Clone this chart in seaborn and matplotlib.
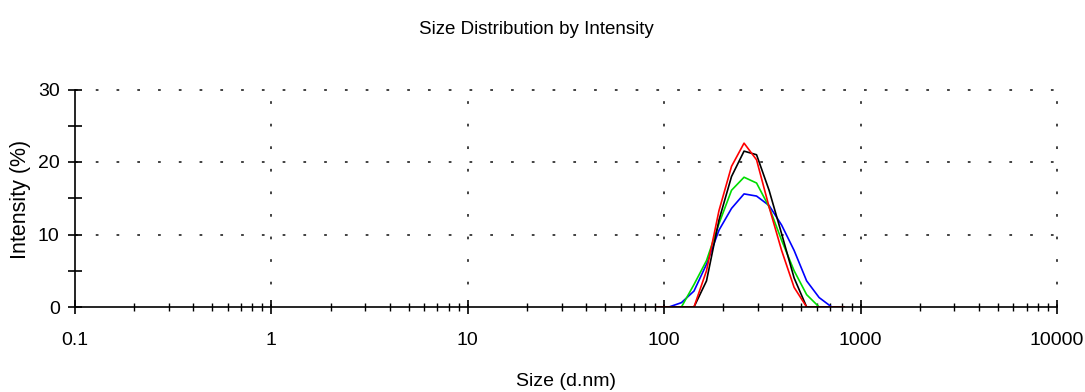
import numpy as np
import pandas as pd
import matplotlib
matplotlib.use("Agg")
import matplotlib.pyplot as plt
import seaborn as sns
from matplotlib.ticker import LogLocator, FixedLocator, NullFormatter

# Size bins (d.nm) around the peak region
sizes = [91.28, 105.7, 122.4, 141.8, 164.2, 190.1, 220.2, 255.0, 295.3,
         342.0, 396.1, 458.7, 531.2, 615.1, 712.4, 825.0]

# Intensity (%) per record
red   = [0, 0, 0, 0, 5.0, 13.3, 19.4, 22.6, 20.3, 13.8, 7.8, 2.7, 0, 0, 0, 0]
black = [0, 0, 0, 0, 3.6, 12.0, 18.0, 21.5, 21.0, 16.1, 10.1, 4.0, 0, 0, 0, 0]
green = [0, 0, 0, 3.1, 6.4, 11.5, 16.1, 17.9, 17.1, 13.8, 9.2, 5.0, 1.7, 0, 0, 0]
blue  = [0, 0, 0.6, 2.2, 5.9, 10.6, 13.6, 15.6, 15.3, 14.0, 11.3, 7.8, 3.6, 1.3, 0, 0]

series_names = ["Record 1", "Record 2", "Record 3", "Record 4"]
series_values = [blue, green, black, red]
series_colors = ["#0000ff", "#00dd00", "#000000", "#ff0000"]

x_major = [0.1, 1, 10, 100, 1000, 10000]
x_labels = ["0.1", "1", "10", "100", "1000", "10000"]
y_major = [0, 10, 20, 30]

df = pd.concat([pd.DataFrame({"size": sizes, "intensity": v, "record": n})
                for n, v in zip(series_names, series_values)], ignore_index=True)

sns.set_style("white")
plt.rcParams["font.family"] = ["Liberation Sans", "DejaVu Sans"]
plt.rcParams["text.color"] = "black"

W, H = 1085, 392
fig = plt.figure(figsize=(W / 100, H / 100), dpi=100)
ax = fig.add_axes([75/W, 1-307/H, (1057-75)/W, (307-89.5)/H])

sns.lineplot(data=df, x="size", y="intensity", hue="record",
             palette=dict(zip(series_names, series_colors)),
             linewidth=1.2, legend=False, ax=ax, estimator=None, sort=False)

ax.set_xscale("log")
ax.set_xlim(0.1, 10000)
ax.set_ylim(0, 30)

ax.xaxis.set_major_locator(FixedLocator(x_major))
ax.set_xticklabels(x_labels)
ax.xaxis.set_minor_locator(LogLocator(base=10, subs=np.arange(2, 10), numticks=20))
ax.xaxis.set_minor_formatter(NullFormatter())
ax.yaxis.set_major_locator(FixedLocator(y_major))
ax.yaxis.set_minor_locator(FixedLocator([5, 15, 25]))

for s in ["top", "right"]:
    ax.spines[s].set_visible(False)
for s in ["left", "bottom"]:
    ax.spines[s].set_color("black")
    ax.spines[s].set_linewidth(1.2)

ax.tick_params(axis="both", which="both", bottom=True, left=True,
               top=False, right=False)
ax.tick_params(axis="both", which="major", direction="inout", length=10, width=1.2,
               colors="black", labelcolor="black", labelsize=14)
ax.tick_params(axis="x", which="minor", direction="inout", length=6, width=1,
               colors="black")
ax.tick_params(axis="y", which="minor", direction="inout", length=10, width=1.2,
               colors="black")
ax.tick_params(axis="x", which="major", pad=13)
ax.tick_params(axis="y", which="major", pad=6)

ax.grid(False)
for xv in x_major[1:]:
    ax.axvline(xv, color="#333333", linestyle=(0, (1.5, 11)), linewidth=1.3,
               zorder=0, clip_on=False)
for yv in y_major[1:]:
    ax.axhline(yv, color="#333333", linestyle=(0, (1.5, 10)), linewidth=1.3,
               zorder=0, clip_on=False)

ax.set_xlabel("")
ax.set_ylabel("")
fig.text(566/W, 1-381/H, "Size (d.nm)", ha="center", va="center", fontsize=14,
         color="black")
fig.text(21/W, 1-199/H, "Intensity (%)", ha="center", va="center",
         rotation=90, fontsize=15.5, color="black")
fig.text(536/W, 1-29/H, "Size Distribution by Intensity", ha="center",
         va="center", fontsize=13.5, color="black")

fig.savefig("out.png", dpi=100, facecolor="white")
